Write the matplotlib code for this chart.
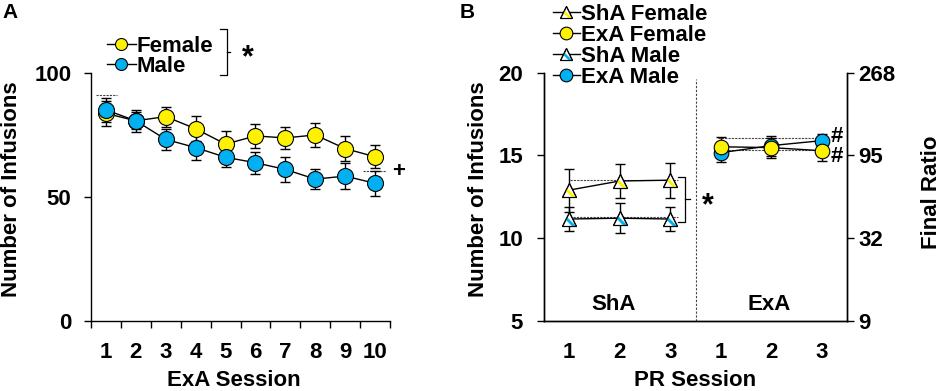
import numpy as np
import matplotlib
matplotlib.use('Agg')
import matplotlib.pyplot as plt
from matplotlib.path import Path
from matplotlib.markers import MarkerStyle

plt.rcParams['font.family'] = ['Liberation Sans', 'DejaVu Sans']
plt.rcParams['font.weight'] = 'bold'
plt.rcParams['axes.labelweight'] = 'bold'
plt.rcParams['axes.linewidth'] = 1.0

AMARILLO = '#FFF200'
AZUL = '#00B0F0'

# ---- Panel A: sesiones ExA ----
sesiones_a = np.arange(1, 11)
hembra_a = [83.6, 80.6, 82.3, 77.4, 71.2, 74.5, 73.7, 74.9, 69.4, 66.1]
hembra_a_err = [5.0, 4.4, 4.0, 5.1, 5.3, 4.8, 4.5, 4.7, 5.1, 4.7]
macho_a = [85.0, 80.6, 73.1, 69.8, 65.9, 63.7, 61.0, 57.1, 58.3, 55.4]
macho_a_err = [5.0, 3.5, 4.3, 5.0, 3.8, 4.5, 5.0, 4.1, 5.1, 5.1]

# ---- Panel B: sesiones PR ----
pos_sha = [1, 2, 3]
pos_exa = [4, 5, 6]
etiquetas_b = ['1', '2', '3', '1', '2', '3']
sha_hembra = [12.9, 13.45, 13.5]
sha_hembra_err = [1.3, 1.05, 1.05]
sha_macho = [11.15, 11.2, 11.15]
sha_macho_err = [0.7, 0.9, 0.7]
exa_hembra = [15.52, 15.47, 15.28]
exa_hembra_err = [0.6, 0.6, 0.65]
exa_macho = [15.16, 15.59, 15.89]
exa_macho_err = [0.55, 0.6, 0.4]
razon_ticks = [5, 10, 15, 20]
razon_etiquetas = ['9', '32', '95', '268']


def marcador_franja():
    # triangulo con una franja diagonal; los MOVETO fijan la escala
    tri = [(0, 1), (-1, -1), (1, -1)]
    franja = [(-0.333, 0.333), (1, -1), (0.4, -1), (-0.533, -0.067), (-0.333, 0.333)]
    codigos = [Path.MOVETO] * 3 + [Path.MOVETO] + [Path.LINETO] * 3 + [Path.CLOSEPOLY]
    return MarkerStyle(Path(tri + franja, codigos))


FRANJA = marcador_franja()


def serie_triangulo(ax, x, y, err, color, ms=10):
    ax.errorbar(x, y, yerr=err, fmt='none', ecolor='black', elinewidth=1, capsize=3.5, capthick=1, zorder=2)
    l1, = ax.plot(x, y, color='black', lw=1, marker='^', ms=ms, mfc='white', mec='black', mew=0.8, zorder=3)
    l2, = ax.plot(x, y, ls='none', marker=FRANJA, ms=ms, mfc=color, mec='none', zorder=4)
    l3, = ax.plot(x, y, ls='none', marker='^', ms=ms, mfc='none', mec='black', mew=0.8, zorder=5)
    return (l1, l2, l3)


def serie_circulo(ax, x, y, err, color, ms=11.5, z=3):
    ax.errorbar(x, y, yerr=err, fmt='none', ecolor='black', elinewidth=1, capsize=3.5, capthick=1, zorder=2)
    l, = ax.plot(x, y, color='black', lw=1, marker='o', ms=ms, mfc=color, mec='black', mew=0.8, zorder=z)
    return l


def corchete(ax, x0, x1, xm, y0, y1, ym):
    ax.plot([x0, x1, x1, x0], [y0, y0, y1, y1], color='black', lw=0.9, clip_on=False)
    ax.plot([x1, xm], [ym, ym], color='black', lw=0.9, clip_on=False)


fig = plt.figure(figsize=(9.41, 3.91), dpi=100)
ax1 = fig.add_axes([91/941, 1-320.7/391, 299/941, 248/391])
ax2 = fig.add_axes([544/941, 1-320.7/391, 303/941, 248/391])

# ---------- Panel A ----------
lh = serie_circulo(ax1, sesiones_a, hembra_a, hembra_a_err, AMARILLO, z=3)
lm = serie_circulo(ax1, sesiones_a, macho_a, macho_a_err, AZUL, z=4)
ax1.set_xlim(0.5, 10.5)
ax1.set_ylim(0, 100)
ax1.set_yticks([0, 50, 100])
ax1.set_xticks(sesiones_a)
ax1.set_xticks(np.arange(0.5, 11, 1), minor=True)
ax1.tick_params(axis='x', which='major', length=0, pad=15, labelsize=16)
ax1.tick_params(axis='x', which='minor', length=5, width=1, direction='out')
ax1.tick_params(axis='y', length=5, width=1, pad=9, labelsize=16)
ax1.spines['top'].set_visible(False)
ax1.spines['right'].set_visible(False)
ax1.set_xlabel('ExA Session', fontsize=16)
ax1.xaxis.set_label_coords(0.478, -0.2)
ax1.set_ylabel('Number of Infusions', fontsize=16)
ax1.yaxis.set_label_coords(-0.232, 0.53)
ax1.plot([0.66, 1.37], [90.9, 90.9], color='#444444', lw=0.8, ls=(0, (2, 1)), zorder=1)
ax1.plot([9.6, 10.37], [60.5, 60.5], color='#444444', lw=0.8, ls=(0, (2, 1)), zorder=1)
ax1.text(10.78, 60, '+', fontsize=16, ha='center', va='center', clip_on=False)
corchete(ax1, 4.81, 5.035, 5.15, 117.6, 99.1, 108.3)
ax1.text(5.75, 106, '*', fontsize=22, ha='center', va='center', clip_on=False)
ax1.legend([lh, lm], ['Female', 'Male'], loc='upper left', bbox_to_anchor=(107/941, 0.908),
           bbox_transform=fig.transFigure, frameon=False, fontsize=16, borderpad=0,
           handlelength=1.3, handletextpad=0.05, labelspacing=-0.05, markerscale=0.75, borderaxespad=0)
fig.text(10.5/941, 1-12.5/391, 'A', fontsize=15, ha='center', va='center')

# ---------- Panel B ----------
hsha = serie_triangulo(ax2, pos_sha, sha_hembra, sha_hembra_err, AMARILLO)
hmsha = serie_triangulo(ax2, pos_sha, sha_macho, sha_macho_err, AZUL)
hmexa = serie_circulo(ax2, pos_exa, exa_macho, exa_macho_err, AZUL, ms=10.5, z=3)
hhexa = serie_circulo(ax2, pos_exa, exa_hembra, exa_hembra_err, AMARILLO, ms=10.5, z=4)
ax2.set_xlim(0.5, 6.5)
ax2.set_ylim(5, 20)
ax2.set_yticks([5, 10, 15, 20])
ax2.set_xticks(pos_sha + pos_exa)
ax2.set_xticklabels(etiquetas_b)
ax2.tick_params(axis='x', length=0, pad=15, labelsize=16)
ax2.tick_params(axis='y', length=5, width=1, pad=10, labelsize=16)
ax2.spines['top'].set_visible(False)
ax2.set_xlabel('PR Session', fontsize=16)
ax2.xaxis.set_label_coords(0.498, -0.2)
ax2.set_ylabel('Number of Infusions', fontsize=16)
ax2.yaxis.set_label_coords(-0.18, 0.53)
ax2.axvline(3.5, ymin=0, ymax=(19.6-5)/15, color='#444444', lw=0.8, ls=(0, (2, 1.5)))
ax2.plot([1.01, 3.15], [13.5, 13.5], color='#444444', lw=0.8, ls=(0, (2, 1)), zorder=1)
ax2.plot([1.07, 3.15], [11.3, 11.3], color='#444444', lw=0.8, ls=(0, (2, 1)), zorder=1)
ax2.plot([3.95, 6.12], [16.07, 16.07], color='#444444', lw=0.8, ls=(0, (2, 1)), zorder=1)
ax2.plot([3.95, 6.12], [15.33, 15.33], color='#444444', lw=0.8, ls=(0, (2, 1)), zorder=1)
corchete(ax2, 3.15, 3.29, 3.39, 13.71, 10.99, 12.36)
ax2.text(3.75, 11.9, '*', fontsize=22, ha='center', va='center')
ax2.text(6.3, 16.13, '#', fontsize=16, ha='center', va='center', clip_on=False)
ax2.text(6.3, 14.92, '#', fontsize=16, ha='center', va='center', clip_on=False)
ax2.text(1.87, 5.95, 'ShA', fontsize=16, ha='center', va='center')
ax2.text(4.96, 5.95, 'ExA', fontsize=16, ha='center', va='center')

ax3 = ax2.twinx()
ax3.set_ylim(5, 20)
ax3.set_yticks(razon_ticks)
ax3.set_yticklabels(razon_etiquetas)
ax3.tick_params(axis='y', length=5, width=1, pad=3, labelsize=16)
ax3.spines['top'].set_visible(False)
ax3.set_ylabel('Final Ratio', fontsize=16, rotation=90)
ax3.yaxis.set_label_coords(1.243, 0.517)
ax3.yaxis.label.set_va('top')

ax2.legend([hsha, hhexa, hmsha, hmexa], ['ShA Female', 'ExA Female', 'ShA Male', 'ExA Male'],
           loc='upper left', bbox_to_anchor=(553/941, 0.99), bbox_transform=fig.transFigure,
           frameon=False, fontsize=16, borderpad=0, handlelength=1.2, handletextpad=0.05,
           labelspacing=0.0, markerscale=0.87, borderaxespad=0)
fig.text(467/941, 1-12.5/391, 'B', fontsize=15, ha='center', va='center')

fig.savefig('out.png', dpi=100)
